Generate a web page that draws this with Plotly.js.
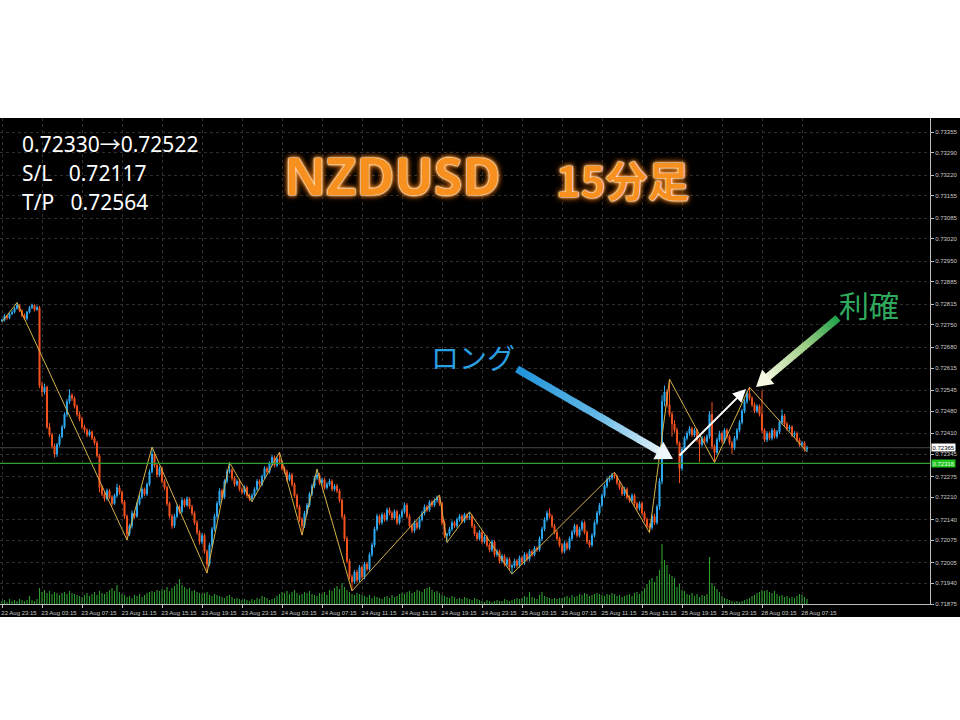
<!DOCTYPE html>
<html>
<head>
<meta charset="utf-8">
<script src="https://cdn.plot.ly/plotly-3.0.1.min.js"></script>
<style>
  html, body { margin: 0; padding: 0; background: #ffffff; }
  #chart { width: 960px; height: 720px; }
</style>
</head>
<body>
<div id="chart"></div>
<script>
// NZDUSD 15-minute candles, 22 Aug 23:15 -> 28 Aug 08:00
const priceOpen = [
0.72762,0.72765,0.72778,0.72772,0.72785,0.72790,0.72802,0.72812,0.72795,0.72780,
0.72770,0.72790,0.72805,0.72812,0.72798,0.72805,0.72560,0.72540,0.72555,0.72430,
0.72405,0.72370,0.72345,0.72375,0.72400,0.72430,0.72470,0.72510,0.72530,0.72520,
0.72495,0.72470,0.72455,0.72430,0.72420,0.72405,0.72415,0.72395,0.72380,0.72340,
0.72240,0.72220,0.72205,0.72230,0.72210,0.72190,0.72215,0.72240,0.72225,0.72195,
0.72150,0.72095,0.72120,0.72160,0.72150,0.72190,0.72210,0.72235,0.72220,0.72250,
0.72290,0.72345,0.72310,0.72280,0.72300,0.72260,0.72240,0.72190,0.72150,0.72120,
0.72150,0.72180,0.72165,0.72200,0.72185,0.72205,0.72180,0.72160,0.72130,0.72100,
0.72070,0.72090,0.72040,0.72000,0.72060,0.72110,0.72150,0.72190,0.72230,0.72210,
0.72260,0.72290,0.72295,0.72270,0.72250,0.72260,0.72235,0.72225,0.72240,0.72215,
0.72205,0.72215,0.72235,0.72260,0.72250,0.72275,0.72300,0.72290,0.72315,0.72335,
0.72310,0.72330,0.72320,0.72300,0.72290,0.72265,0.72280,0.72250,0.72215,0.72180,
0.72140,0.72120,0.72160,0.72185,0.72220,0.72245,0.72270,0.72280,0.72255,0.72265,
0.72240,0.72250,0.72260,0.72235,0.72245,0.72230,0.72200,0.72150,0.72080,0.72010,
0.71960,0.71945,0.71975,0.71950,0.71990,0.71960,0.72000,0.71985,0.72030,0.72060,
0.72110,0.72150,0.72130,0.72155,0.72140,0.72170,0.72160,0.72145,0.72165,0.72130,
0.72150,0.72165,0.72185,0.72150,0.72120,0.72105,0.72130,0.72115,0.72140,0.72160,
0.72180,0.72170,0.72195,0.72185,0.72200,0.72210,0.72190,0.72130,0.72090,0.72095,
0.72110,0.72130,0.72120,0.72140,0.72150,0.72135,0.72155,0.72145,0.72150,0.72120,
0.72095,0.72080,0.72100,0.72070,0.72085,0.72060,0.72045,0.72070,0.72030,0.72040,
0.72010,0.72025,0.72000,0.72015,0.71990,0.71995,0.72010,0.71995,0.72020,0.72005,
0.72030,0.72015,0.72040,0.72030,0.72050,0.72045,0.72080,0.72110,0.72140,0.72160,
0.72150,0.72120,0.72100,0.72080,0.72060,0.72040,0.72065,0.72050,0.72080,0.72100,
0.72120,0.72090,0.72110,0.72130,0.72100,0.72070,0.72060,0.72090,0.72130,0.72160,
0.72185,0.72215,0.72245,0.72265,0.72270,0.72280,0.72275,0.72255,0.72240,0.72220,
0.72235,0.72210,0.72200,0.72215,0.72190,0.72175,0.72190,0.72160,0.72140,0.72120,
0.72115,0.72150,0.72130,0.72180,0.72260,0.72510,0.72540,0.72500,0.72470,0.72440,
0.72420,0.72380,0.72300,0.72360,0.72395,0.72410,0.72425,0.72405,0.72420,0.72390,
0.72375,0.72395,0.72385,0.72400,0.72470,0.72370,0.72350,0.72390,0.72410,0.72385,
0.72420,0.72400,0.72380,0.72365,0.72395,0.72420,0.72445,0.72480,0.72510,0.72535,
0.72520,0.72500,0.72480,0.72495,0.72470,0.72420,0.72390,0.72410,0.72395,0.72420,
0.72400,0.72415,0.72445,0.72465,0.72440,0.72425,0.72430,0.72405,0.72410,0.72390,
0.72375,0.72380,0.72360
];
const priceHigh = [
0.72770,0.72784,0.72781,0.72789,0.72796,0.72806,0.72820,0.72815,0.72799,0.72786,
0.72794,0.72810,0.72817,0.72815,0.72811,0.72810,0.72572,0.72566,0.72560,0.72442,
0.72412,0.72378,0.72380,0.72408,0.72437,0.72476,0.72518,0.72549,0.72536,0.72526,
0.72501,0.72478,0.72462,0.72437,0.72426,0.72422,0.72419,0.72401,0.72386,0.72346,
0.72248,0.72228,0.72237,0.72236,0.72216,0.72221,0.72252,0.72248,0.72230,0.72201,
0.72156,0.72127,0.72168,0.72166,0.72196,0.72218,0.72241,0.72240,0.72256,0.72297,
0.72367,0.72352,0.72316,0.72307,0.72306,0.72266,0.72246,0.72196,0.72157,0.72158,
0.72187,0.72186,0.72208,0.72206,0.72212,0.72210,0.72186,0.72166,0.72137,0.72106,
0.72097,0.72096,0.72046,0.72067,0.72117,0.72158,0.72197,0.72238,0.72236,0.72266,
0.72298,0.72319,0.72301,0.72276,0.72266,0.72267,0.72241,0.72247,0.72246,0.72221,
0.72222,0.72241,0.72267,0.72266,0.72281,0.72307,0.72306,0.72322,0.72342,0.72341,
0.72337,0.72351,0.72326,0.72306,0.72296,0.72287,0.72286,0.72256,0.72221,0.72186,
0.72147,0.72167,0.72192,0.72227,0.72252,0.72277,0.72298,0.72286,0.72272,0.72271,
0.72257,0.72268,0.72266,0.72251,0.72252,0.72236,0.72206,0.72157,0.72087,0.72016,
0.71967,0.71982,0.71983,0.71997,0.71996,0.72007,0.72006,0.72037,0.72068,0.72117,
0.72158,0.72156,0.72162,0.72161,0.72177,0.72178,0.72166,0.72172,0.72171,0.72157,
0.72172,0.72193,0.72191,0.72157,0.72127,0.72137,0.72136,0.72147,0.72167,0.72187,
0.72186,0.72201,0.72202,0.72206,0.72215,0.72217,0.72196,0.72137,0.72098,0.72117,
0.72137,0.72136,0.72146,0.72157,0.72156,0.72161,0.72160,0.72164,0.72156,0.72126,
0.72101,0.72107,0.72106,0.72092,0.72091,0.72066,0.72077,0.72076,0.72047,0.72046,
0.72032,0.72031,0.72022,0.72021,0.72001,0.72017,0.72016,0.72027,0.72026,0.72037,
0.72036,0.72047,0.72046,0.72057,0.72056,0.72087,0.72118,0.72147,0.72168,0.72175,
0.72156,0.72126,0.72107,0.72086,0.72066,0.72072,0.72071,0.72087,0.72107,0.72127,
0.72126,0.72117,0.72137,0.72136,0.72106,0.72076,0.72097,0.72137,0.72167,0.72192,
0.72222,0.72252,0.72272,0.72278,0.72286,0.72288,0.72281,0.72261,0.72246,0.72242,
0.72241,0.72216,0.72222,0.72221,0.72196,0.72197,0.72196,0.72166,0.72146,0.72127,
0.72157,0.72158,0.72187,0.72270,0.72530,0.72560,0.72548,0.72580,0.72478,0.72452,
0.72428,0.72385,0.72368,0.72402,0.72417,0.72433,0.72431,0.72427,0.72426,0.72396,
0.72402,0.72401,0.72407,0.72480,0.72508,0.72376,0.72397,0.72418,0.72416,0.72427,
0.72426,0.72406,0.72387,0.72402,0.72427,0.72452,0.72487,0.72517,0.72542,0.72555,
0.72527,0.72507,0.72502,0.72501,0.72545,0.72426,0.72417,0.72416,0.72427,0.72426,
0.72421,0.72452,0.72485,0.72471,0.72446,0.72437,0.72436,0.72417,0.72416,0.72396,
0.72387,0.72386,0.72371
];
const priceLow = [
0.72760,0.72761,0.72766,0.72768,0.72781,0.72786,0.72798,0.72790,0.72774,0.72765,
0.72764,0.72786,0.72800,0.72792,0.72794,0.72552,0.72526,0.72532,0.72424,0.72398,
0.72362,0.72334,0.72336,0.72368,0.72394,0.72424,0.72462,0.72502,0.72512,0.72488,
0.72463,0.72448,0.72424,0.72412,0.72398,0.72400,0.72389,0.72373,0.72334,0.72225,
0.72213,0.72196,0.72199,0.72204,0.72182,0.72186,0.72209,0.72218,0.72188,0.72142,
0.72076,0.72088,0.72112,0.72142,0.72145,0.72184,0.72204,0.72213,0.72214,0.72244,
0.72284,0.72303,0.72272,0.72274,0.72253,0.72232,0.72182,0.72143,0.72111,0.72113,
0.72144,0.72158,0.72159,0.72178,0.72180,0.72173,0.72152,0.72123,0.72092,0.72061,
0.72063,0.72032,0.71972,0.71994,0.72052,0.72103,0.72142,0.72183,0.72202,0.72204,
0.72253,0.72284,0.72262,0.72243,0.72244,0.72228,0.72218,0.72219,0.72208,0.72198,
0.72196,0.72208,0.72229,0.72243,0.72244,0.72268,0.72283,0.72284,0.72308,0.72303,
0.72304,0.72312,0.72293,0.72283,0.72258,0.72259,0.72243,0.72208,0.72172,0.72132,
0.72091,0.72113,0.72154,0.72179,0.72213,0.72238,0.72263,0.72248,0.72249,0.72233,
0.72234,0.72244,0.72228,0.72229,0.72223,0.72193,0.72142,0.72072,0.72002,0.71952,
0.71916,0.71938,0.71942,0.71944,0.71953,0.71952,0.71978,0.71979,0.72023,0.72053,
0.72103,0.72123,0.72124,0.72133,0.72134,0.72153,0.72138,0.72139,0.72123,0.72124,
0.72143,0.72158,0.72143,0.72113,0.72097,0.72098,0.72108,0.72109,0.72133,0.72153,
0.72163,0.72164,0.72178,0.72179,0.72193,0.72183,0.72122,0.72082,0.72068,0.72088,
0.72103,0.72113,0.72114,0.72133,0.72128,0.72129,0.72138,0.72139,0.72113,0.72088,
0.72073,0.72074,0.72063,0.72064,0.72053,0.72037,0.72038,0.72022,0.72023,0.72002,
0.72003,0.71993,0.71992,0.71982,0.71969,0.71988,0.71988,0.71989,0.71998,0.71998,
0.72008,0.72009,0.72023,0.72024,0.72038,0.72039,0.72073,0.72103,0.72133,0.72143,
0.72113,0.72093,0.72073,0.72053,0.72032,0.72034,0.72043,0.72044,0.72073,0.72093,
0.72083,0.72084,0.72103,0.72093,0.72063,0.72052,0.72054,0.72083,0.72123,0.72153,
0.72178,0.72208,0.72238,0.72258,0.72263,0.72268,0.72248,0.72233,0.72213,0.72214,
0.72203,0.72193,0.72193,0.72183,0.72168,0.72168,0.72153,0.72133,0.72113,0.72099,
0.72108,0.72123,0.72124,0.72170,0.72250,0.72495,0.72492,0.72462,0.72400,0.72412,
0.72372,0.72254,0.72292,0.72352,0.72388,0.72403,0.72398,0.72399,0.72383,0.72320,
0.72368,0.72378,0.72378,0.72393,0.72360,0.72319,0.72343,0.72383,0.72378,0.72379,
0.72393,0.72373,0.72345,0.72358,0.72388,0.72413,0.72438,0.72473,0.72503,0.72513,
0.72493,0.72473,0.72474,0.72463,0.72410,0.72383,0.72383,0.72388,0.72388,0.72393,
0.72393,0.72408,0.72438,0.72433,0.72418,0.72418,0.72398,0.72398,0.72383,0.72368,
0.72368,0.72353,0.72352
];
const priceClose = [
0.72765,0.72778,0.72772,0.72785,0.72790,0.72802,0.72812,0.72795,0.72780,0.72770,
0.72790,0.72805,0.72812,0.72798,0.72805,0.72560,0.72540,0.72555,0.72430,0.72405,
0.72370,0.72345,0.72375,0.72400,0.72430,0.72470,0.72510,0.72530,0.72520,0.72495,
0.72470,0.72455,0.72430,0.72420,0.72405,0.72415,0.72395,0.72380,0.72340,0.72240,
0.72220,0.72205,0.72230,0.72210,0.72190,0.72215,0.72240,0.72225,0.72195,0.72150,
0.72095,0.72120,0.72160,0.72150,0.72190,0.72210,0.72235,0.72220,0.72250,0.72290,
0.72345,0.72310,0.72280,0.72300,0.72260,0.72240,0.72190,0.72150,0.72120,0.72150,
0.72180,0.72165,0.72200,0.72185,0.72205,0.72180,0.72160,0.72130,0.72100,0.72070,
0.72090,0.72040,0.72000,0.72060,0.72110,0.72150,0.72190,0.72230,0.72210,0.72260,
0.72290,0.72295,0.72270,0.72250,0.72260,0.72235,0.72225,0.72240,0.72215,0.72205,
0.72215,0.72235,0.72260,0.72250,0.72275,0.72300,0.72290,0.72315,0.72335,0.72310,
0.72330,0.72320,0.72300,0.72290,0.72265,0.72280,0.72250,0.72215,0.72180,0.72140,
0.72120,0.72160,0.72185,0.72220,0.72245,0.72270,0.72280,0.72255,0.72265,0.72240,
0.72250,0.72260,0.72235,0.72245,0.72230,0.72200,0.72150,0.72080,0.72010,0.71960,
0.71945,0.71975,0.71950,0.71990,0.71960,0.72000,0.71985,0.72030,0.72060,0.72110,
0.72150,0.72130,0.72155,0.72140,0.72170,0.72160,0.72145,0.72165,0.72130,0.72150,
0.72165,0.72185,0.72150,0.72120,0.72105,0.72130,0.72115,0.72140,0.72160,0.72180,
0.72170,0.72195,0.72185,0.72200,0.72210,0.72190,0.72130,0.72090,0.72095,0.72110,
0.72130,0.72120,0.72140,0.72150,0.72135,0.72155,0.72145,0.72150,0.72120,0.72095,
0.72080,0.72100,0.72070,0.72085,0.72060,0.72045,0.72070,0.72030,0.72040,0.72010,
0.72025,0.72000,0.72015,0.71990,0.71995,0.72010,0.71995,0.72020,0.72005,0.72030,
0.72015,0.72040,0.72030,0.72050,0.72045,0.72080,0.72110,0.72140,0.72160,0.72150,
0.72120,0.72100,0.72080,0.72060,0.72040,0.72065,0.72050,0.72080,0.72100,0.72120,
0.72090,0.72110,0.72130,0.72100,0.72070,0.72060,0.72090,0.72130,0.72160,0.72185,
0.72215,0.72245,0.72265,0.72270,0.72280,0.72275,0.72255,0.72240,0.72220,0.72235,
0.72210,0.72200,0.72215,0.72190,0.72175,0.72190,0.72160,0.72140,0.72120,0.72115,
0.72150,0.72130,0.72180,0.72260,0.72510,0.72540,0.72500,0.72470,0.72440,0.72420,
0.72380,0.72300,0.72360,0.72395,0.72410,0.72425,0.72405,0.72420,0.72390,0.72375,
0.72395,0.72385,0.72400,0.72470,0.72370,0.72350,0.72390,0.72410,0.72385,0.72420,
0.72400,0.72380,0.72365,0.72395,0.72420,0.72445,0.72480,0.72510,0.72535,0.72520,
0.72500,0.72480,0.72495,0.72470,0.72420,0.72390,0.72410,0.72395,0.72420,0.72400,
0.72415,0.72445,0.72465,0.72440,0.72425,0.72430,0.72405,0.72410,0.72390,0.72375,
0.72380,0.72360,0.72365
];
// tick volume per bar
const tickVolume = [
30,40,20,50,30,40,30,50,40,30,40,80,40,30,50,
160,120,140,110,130,100,120,110,90,110,120,100,130,110,100,90,
80,70,90,110,80,100,120,90,130,110,100,120,140,160,130,190,120,
100,90,70,80,60,90,80,100,70,90,110,120,130,120,140,130,
150,140,170,130,160,180,200,250,190,170,150,160,130,140,120,110,
100,110,120,90,80,100,90,80,70,60,80,90,70,50,60,50,
40,50,40,30,50,40,60,50,80,70,60,40,50,60,80,100,
120,110,130,100,120,140,110,90,100,120,110,130,100,90,80,110,
100,120,90,140,130,160,180,150,210,170,140,120,100,90,110,100,
90,80,70,90,60,80,70,60,50,70,80,60,90,70,80,100,
110,100,120,130,110,120,140,130,120,150,160,170,140,120,130,110,
90,80,70,60,80,70,50,60,50,70,60,50,40,60,50,40,
30,20,40,30,20,30,40,30,30,50,40,30,40,50,60,50,
60,80,70,120,70,60,50,90,120,80,70,60,50,60,50,60,
60,70,80,60,90,70,80,100,90,110,100,80,90,100,110,100,
90,80,100,90,110,100,80,90,70,80,90,100,80,110,120,100,
130,160,200,240,260,220,280,
340,600,440,390,300,280,260,170,200,140,130,
100,90,110,80,100,70,90,80,100,470,210,
180,150,120,80,60,50,40,30,
20,30,20,30,40,50,60,80,
90,110,120,140,130,140,120,110,130,100,80,90,
70,80,60,70,60,80,100,90,70,50
];

// ZigZag turning points (bar index, price)
const zigzagBar = [0,6,50,60,82,91,100,111,120,126,140,175,178,187,204,245,259,267,285,299,322];
const zigzagPrice = [0.72760,0.72820,0.72076,0.72367,0.71972,0.72319,0.72196,0.72351,0.72091,0.72298,
                     0.71916,0.72217,0.72068,0.72164,0.71969,0.72288,0.72099,0.72580,0.72319,0.72555,0.72352];

// time axis labels (every 16 bars)
const timeTickBar = [0,16,32,48,64,80,96,112,128,144,160,176,192,208,224,240,256,272,288,304,320];
const timeTickText = ['22 Aug 23:15','23 Aug 03:15','23 Aug 07:15','23 Aug 11:15','23 Aug 15:15','23 Aug 19:15',
  '23 Aug 23:15','24 Aug 03:15','24 Aug 07:15','24 Aug 11:15','24 Aug 15:15','24 Aug 19:15','24 Aug 23:15',
  '25 Aug 03:15','25 Aug 07:15','25 Aug 11:15','25 Aug 15:15','25 Aug 19:15','25 Aug 23:15','28 Aug 03:15','28 Aug 07:15'];

// price scale labels
const priceTicks = [0.73355,0.73290,0.73220,0.73155,0.73085,0.73020,0.72950,0.72885,0.72815,0.72750,0.72680,
  0.72615,0.72545,0.72480,0.72410,0.72345,0.72275,0.72210,0.72140,0.72075,0.72005,0.71940,0.71875];

// trade levels
const entryPrice = 0.72330;
const exitPrice = 0.72522;
const stopLoss = 0.72117;
const takeProfit = 0.72564;
const levelLine = 0.72316;

const barIndex = priceClose.map((_, i) => i);
const lastClose = priceClose[priceClose.length - 1];

// plot-area pixel helpers for overlay drawings (plot spans 930 x 486 px)
const PW = 930, PT = 118, PB = 604;
const px = x => x / PW;
const py = y => (PB - y) / (PB - PT);

function hex2rgb(h) { return [1, 3, 5].map(k => parseInt(h.substr(k, 2), 16)); }
function mix(a, b, t) {
  const A = hex2rgb(a), B = hex2rgb(b);
  const c = A.map((v, k) => Math.round(v + (B[k] - v) * t));
  return 'rgb(' + c.join(',') + ')';
}

// thick arrow whose colour fades from tail to head
function fadeArrow(x0, y0, x1, y1, stops, width, headLen, headHalf, headColor) {
  const out = [];
  const dx = x1 - x0, dy = y1 - y0, L = Math.hypot(dx, dy);
  const ux = dx / L, uy = dy / L;
  const body = L - headLen + 2;
  const N = 40;
  for (let k = 0; k < N; k++) {
    const a = body * k / N, b = Math.min(body, body * (k + 1) / N + 0.6);
    const t = (k + 0.5) / N;
    let col;
    if (t < stops[1][0]) col = mix(stops[0][1], stops[1][1], t / stops[1][0]);
    else col = mix(stops[1][1], stops[2][1], (t - stops[1][0]) / (1 - stops[1][0]));
    out.push({
      type: 'line', xref: 'paper', yref: 'paper', layer: 'above',
      x0: px(x0 + ux * a), y0: py(y0 + uy * a), x1: px(x0 + ux * b), y1: py(y0 + uy * b),
      line: { color: col, width: width }
    });
  }
  const bx = x0 + ux * (L - headLen), by = y0 + uy * (L - headLen);
  const nx = -uy, ny = ux;
  const p = (x, y) => px(x).toFixed(5) + ',' + py(y).toFixed(5);
  out.push({
    type: 'path', xref: 'paper', yref: 'paper', layer: 'above',
    path: 'M' + p(x1, y1) + ' L' + p(bx + nx * headHalf, by + ny * headHalf) + ' L' + p(bx - nx * headHalf, by - ny * headHalf) + ' Z',
    fillcolor: headColor, line: { width: 0 }
  });
  return out;
}

const traces = [
  {
    type: 'bar', x: barIndex, y: tickVolume, yaxis: 'y2',
    marker: { color: '#2f9a2f', line: { width: 0 } }, width: 0.45,
    hoverinfo: 'skip', showlegend: false
  },
  {
    type: 'candlestick', x: barIndex,
    open: priceOpen, high: priceHigh, low: priceLow, close: priceClose,
    increasing: { line: { color: '#2ea8ee', width: 1 }, fillcolor: '#2ea8ee' },
    decreasing: { line: { color: '#f0521f', width: 1 }, fillcolor: '#f0521f' },
    whiskerwidth: 0, hoverinfo: 'skip', showlegend: false
  },
  {
    type: 'scatter', mode: 'lines', x: zigzagBar, y: zigzagPrice,
    line: { color: '#d4b248', width: 1 }, hoverinfo: 'skip', showlegend: false
  }
];

const txtFont = { family: 'Noto Sans, Open Sans, sans-serif', size: 21, color: '#ffffff' };
const arrowGlyph = '<span style="font-family:\'Noto Sans CJK JP\'">\u2192</span>';
const shapes = [
  // black chart window (extends under the price and time scales)
  { type: 'rect', xref: 'paper', yref: 'paper', layer: 'below',
    x0: 0, x1: 960 / PW, y0: -(617 - PB) / (PB - PT), y1: 1, fillcolor: '#000000', line: { width: 0 } },
  // bid line
  { type: 'line', xref: 'paper', yref: 'y', layer: 'below', x0: 0, x1: 1, y0: lastClose, y1: lastClose,
    line: { color: '#474747', width: 1 } },
  // horizontal level
  { type: 'line', xref: 'paper', yref: 'y', layer: 'above', x0: 0, x1: 1, y0: levelLine, y1: levelLine,
    line: { color: '#2f9e2f', width: 1.2 } }
].concat(
  fadeArrow(517, 369, 673, 459, [[0, '#1f93dc'], [0.55, '#63b8e6'], [1, '#e4f2f8']], 7.5, 17, 10, '#eef7fb'),
  fadeArrow(838, 318, 756, 387, [[0, '#1fa24a'], [0.45, '#9ccf86'], [1, '#f3f6dc']], 7.5, 16, 9.5, '#f6f8e4')
);

const titleShadow = '0 0 1px #ffffff, 0 0 2px #ffffff, 0 0 2px #fff2d0, 0 0 5px #ff8a1a, 0 0 7px #ff7a00';
const annotations = [
  { xref: 'paper', yref: 'paper', x: px(20), y: py(143), xanchor: 'left', yanchor: 'middle', showarrow: false,
    text: entryPrice.toFixed(5) + arrowGlyph + exitPrice.toFixed(5), font: txtFont },
  { xref: 'paper', yref: 'paper', x: px(20), y: py(173), xanchor: 'left', yanchor: 'middle', showarrow: false,
    text: 'S/L\u00a0\u00a0\u00a0' + stopLoss.toFixed(5), font: txtFont },
  { xref: 'paper', yref: 'paper', x: px(20), y: py(202), xanchor: 'left', yanchor: 'middle', showarrow: false,
    text: 'T/P\u00a0\u00a0\u00a0' + takeProfit.toFixed(5), font: txtFont },
  { xref: 'paper', yref: 'paper', x: px(392), y: py(174), xanchor: 'center', yanchor: 'middle', showarrow: false,
    text: 'NZDUSD',
    font: { family: 'Noto Sans, sans-serif', size: 52, weight: 700, color: '#f7901e', shadow: titleShadow } },
  { xref: 'paper', yref: 'paper', x: px(623), y: py(178), xanchor: 'center', yanchor: 'middle', showarrow: false,
    text: '15分足',
    font: { family: 'Noto Sans CJK JP, sans-serif', size: 42, weight: 700, color: '#f7901e', shadow: titleShadow } },
  { xref: 'paper', yref: 'paper', x: px(473), y: py(357), xanchor: 'center', yanchor: 'middle', showarrow: false,
    text: 'ロング', font: { family: 'Noto Sans CJK JP, sans-serif', size: 28, color: '#2a9fe2' } },
  { xref: 'paper', yref: 'paper', x: px(869), y: py(304), xanchor: 'center', yanchor: 'middle', showarrow: false,
    text: '利確', font: { family: 'Noto Sans CJK JP, sans-serif', size: 30, color: '#2faa5c' } },
  // trade path arrow
  { xref: 'paper', yref: 'paper', x: px(746), y: py(389), ax: -68, ay: 68, axref: 'pixel', ayref: 'pixel',
    text: '', showarrow: true, arrowhead: 2, arrowsize: 1.3, arrowwidth: 2, arrowcolor: '#ffffff', standoff: 0 },
  // price scale markers
  { xref: 'paper', yref: 'y', x: 1, y: lastClose, xanchor: 'left', yanchor: 'middle', xshift: 1,
    showarrow: false, text: lastClose.toFixed(5), bgcolor: '#ffffff', borderpad: 0.5,
    font: { family: 'Liberation Sans, Arial, sans-serif', size: 6, color: '#000000' } },
  { xref: 'paper', yref: 'y', x: 1, y: levelLine, xanchor: 'left', yanchor: 'middle', xshift: 1,
    showarrow: false, text: levelLine.toFixed(5), bgcolor: '#1fc41f', borderpad: 0.5,
    font: { family: 'Liberation Sans, Arial, sans-serif', size: 6, color: '#e8ffe8' } }
];

const layout = {
  width: 960, height: 720,
  margin: { l: 0, r: 30, t: 118, b: 116, pad: 0 },
  paper_bgcolor: '#ffffff', plot_bgcolor: '#000000',
  showlegend: false, hovermode: false, boxgap: 0.4,
  xaxis: {
    range: [-0.8, 371.2], fixedrange: true, rangeslider: { visible: false },
    tickmode: 'array', tickvals: timeTickBar, ticktext: timeTickText,
    ticks: 'outside', ticklen: 3, tickcolor: '#bdbdbd', ticklabelshift: 17, ticklabelstandoff: 0,
    tickfont: { family: 'Liberation Sans, Arial, sans-serif', size: 6, color: '#c8c8c8' },
    showline: true, linecolor: '#bdbdbd', linewidth: 1, mirror: false,
    showgrid: true, gridcolor: '#2e2e2e', griddash: 'dot', gridwidth: 1, zeroline: false
  },
  yaxis: {
    range: [0.71875, 0.73399], side: 'right', fixedrange: true,
    tickmode: 'array', tickvals: priceTicks, ticktext: priceTicks.map(v => v.toFixed(5)),
    ticks: 'outside', ticklen: 3, tickcolor: '#bdbdbd', ticklabelstandoff: 0,
    tickfont: { family: 'Liberation Sans, Arial, sans-serif', size: 6, color: '#c8c8c8' },
    showline: true, linecolor: '#bdbdbd', linewidth: 1,
    showgrid: true, gridcolor: '#2e2e2e', griddash: 'dot', gridwidth: 1, zeroline: false
  },
  yaxis2: { overlaying: 'y', range: [0, 4860], visible: false, fixedrange: true },
  shapes: shapes,
  annotations: annotations
};

Plotly.newPlot('chart', traces, layout, { staticPlot: true, displayModeBar: false });
</script>
</body>
</html>
